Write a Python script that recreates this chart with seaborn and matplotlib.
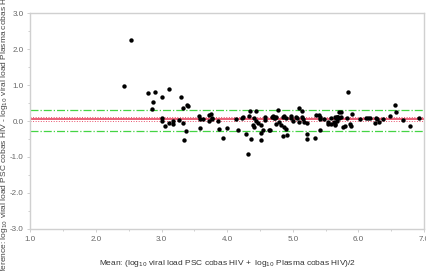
import numpy as np
import pandas as pd
import matplotlib
matplotlib.use("Agg")
import matplotlib.pyplot as plt
import seaborn as sb
from matplotlib.ticker import MultipleLocator, FormatStrFormatter

# valores (média, diferença)
media = [2.43, 2.54, 2.79, 2.87, 2.85, 2.90, 3.01, 3.12, 3.29, 3.33, 3.39, 3.41,
         3.00, 3.00, 3.06, 3.11, 3.17, 3.18, 3.27, 3.32, 3.37, 3.34,
         3.57, 3.58, 3.59, 3.63, 3.73, 3.75, 3.73, 3.77, 3.86, 3.87,
         3.77, 3.93, 3.99, 4.13, 4.17, 4.23, 4.24, 4.29, 4.33, 4.35, 4.36, 4.32,
         4.40, 4.41, 4.41, 4.44, 4.44, 4.47, 4.52, 4.52, 4.52, 4.55, 4.57, 4.57,
         4.63, 4.66, 4.69, 4.71, 4.70, 4.75, 4.78,
         4.72, 4.73, 4.75, 4.79, 4.82, 4.85, 4.87, 4.86, 4.89, 4.90, 4.85, 4.91,
         4.97, 4.98, 5.00, 5.05, 5.06, 5.09, 5.14, 5.10, 5.14, 5.15, 5.17, 5.22,
         5.21, 5.21, 5.34, 5.36, 5.40, 5.42, 5.41, 5.42, 5.47, 5.53, 5.54, 5.58,
         5.63, 5.66, 5.67, 5.64, 5.70, 5.71,
         5.58, 5.64, 5.64, 5.67, 5.69, 5.68, 5.73, 5.74, 5.76, 5.79, 5.84, 5.83,
         5.87, 5.89, 5.91, 6.03, 6.12, 6.15, 6.17, 6.25, 6.27, 6.28, 6.32, 6.38,
         6.48, 6.56, 6.57, 6.68, 6.78, 6.92]
diferenca = [0.96, 2.24, 0.78, 0.52, 0.34, 0.80, 0.67, 0.89, 0.68, 0.36, 0.45, 0.41,
             0.08, 0.01, -0.14, -0.05, -0.07, 0.00, 0.02, -0.06, -0.28, -0.54,
             0.13, 0.05, -0.19, 0.06, 0.18, 0.19, -0.01, 0.05, 0.00, -0.21,
             0.09, -0.48, -0.20, 0.05, -0.25, 0.07, 0.10, -0.35, 0.14, 0.27, -0.49, -0.93,
             -0.11, -0.18, 0.07, 0.27, 0.01, -0.06, -0.11, -0.34, -0.54, -0.24, 0.03, 0.10,
             -0.24, -0.26, 0.10, 0.07, 0.14, -0.09, 0.30,
             0.12, 0.07, 0.10, -0.03, -0.10, 0.10, 0.14, -0.16, -0.21, 0.07, -0.43, -0.40,
             0.08, 0.13, -0.01, 0.12, 0.07, 0.36, 0.27, -0.04, 0.10, 0.06, -0.03, -0.36,
             -0.51, -0.06, -0.46, 0.16, 0.16, 0.10, -0.24, 0.06, 0.05, -0.09, -0.03, -0.09,
             -0.03, 0.08, 0.10, -0.10, 0.08, 0.26,
             0.07, 0.10, -0.08, 0.10, 0.10, -0.01, 0.26, 0.10, -0.16, -0.13, 0.81, 0.09,
             -0.09, -0.13, 0.20, 0.05, 0.08, 0.08, 0.07, -0.06, 0.09, 0.06, -0.04, 0.05,
             0.13, 0.44, 0.26, 0.04, -0.14, 0.09]

# linhas de referência: média, IC da média, limites de concordância
vies = 0.06
ic_vies = [0.01, 0.10]
limites = [0.30, -0.29]

df = pd.DataFrame({"media": media, "diferenca": diferenca})

sb.set_style("white")
plt.rcParams["font.family"] = ["Liberation Sans", "DejaVu Sans"]
fig = plt.figure(figsize=(4.27, 2.71), dpi=100)
ax = fig.add_axes([0.071, 0.155, 0.922, 0.797])

for l in limites:
    ax.axhline(l, color="#44d444", linestyle="-.", linewidth=0.9, zorder=1)
ax.axhline(vies, color="#e8506a", linestyle="-", linewidth=1.3, zorder=1)
for l in ic_vies:
    ax.axhline(l, color="#e8506a", linestyle=":", linewidth=0.7, zorder=1)

sb.scatterplot(data=df, x="media", y="diferenca", ax=ax, color="black",
               s=10, edgecolor="black", linewidth=0, zorder=3)

ax.set_xlim(1.0, 7.0)
ax.set_ylim(-3.0, 3.0)
ax.xaxis.set_major_locator(MultipleLocator(1.0))
ax.xaxis.set_minor_locator(MultipleLocator(0.5))
ax.yaxis.set_major_locator(MultipleLocator(1.0))
ax.yaxis.set_minor_locator(MultipleLocator(0.5))
ax.xaxis.set_major_formatter(FormatStrFormatter("%.1f"))
ax.yaxis.set_major_formatter(FormatStrFormatter("%.1f"))
ax.tick_params(which="both", direction="out", color="#c8c8c8", labelcolor="#666666",
               labelsize=5.8, length=2, width=0.6, pad=3)
ax.tick_params(axis="both", which="major", bottom=True, left=True)
ax.tick_params(axis="both", which="minor", bottom=True, left=True, length=1.5)
for s in ax.spines.values():
    s.set_color("#d0d0d0")
    s.set_linewidth(1.0)

ax.set_xlabel("Mean: (log$_{10}$ viral load PSC cobas HIV +  log$_{10}$ Plasma cobas HIV)/2",
              fontsize=6.0, color="#333333", labelpad=11)
ax.set_ylabel("")
fig.text(0.011, 0.5,
         "Difference: log$_{10}$ viral load PSC cobas HIV - log$_{10}$ viral load Plasma cobas HIV",
         rotation=90, ha="center", va="center", fontsize=6.0, color="#444444")

fig.savefig("out.png", dpi=100)
